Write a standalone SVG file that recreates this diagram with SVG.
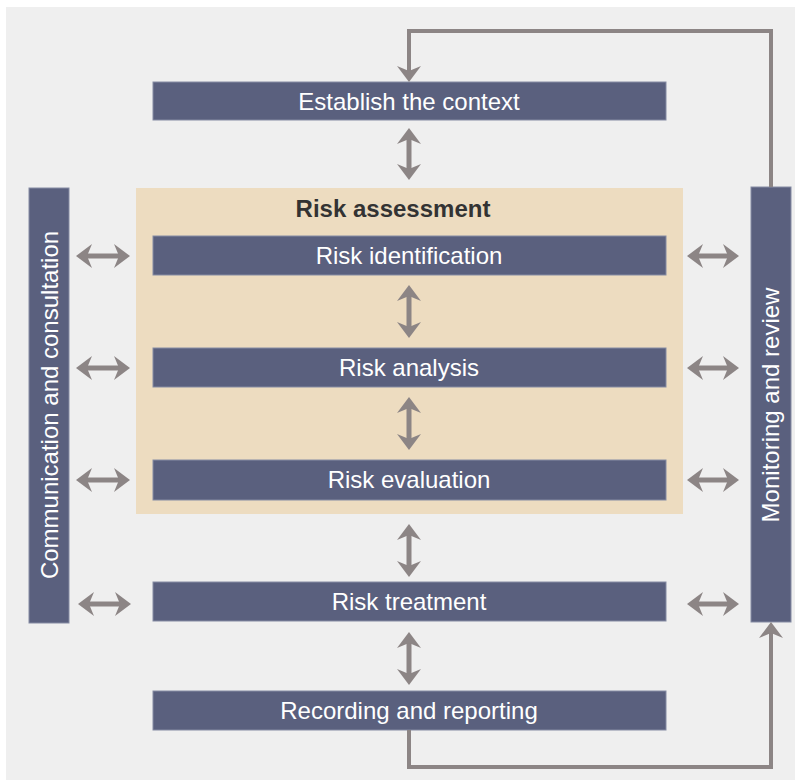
<svg xmlns="http://www.w3.org/2000/svg" width="802" height="783" viewBox="0 0 802 783">
<style>
.box{fill:#5a607e;stroke:#858ba3;stroke-width:1}
.lbl{font-family:"Liberation Sans",Arial,sans-serif;font-size:24px;fill:#ffffff;text-anchor:middle}
.ttl{font-family:"Liberation Sans",Arial,sans-serif;font-size:24px;font-weight:bold;fill:#333333;text-anchor:middle}
.con{fill:none;stroke:#8c8585;stroke-width:4}
.dbl{fill:none;stroke:#8c8585;stroke-width:5}
</style>
<defs>
<marker id="ah" markerUnits="userSpaceOnUse" viewBox="0 0 16 24" markerWidth="16" markerHeight="24" refX="5" refY="12" orient="auto-start-reverse">
<path d="M0,0 L16,12 L0,24 L5,12 Z" fill="#8c8585"/>
</marker>
</defs>
<rect x="0" y="0" width="802" height="783" fill="#ffffff"/>
<rect x="6" y="7" width="789" height="773" fill="#efefef"/>
<g id="risk-assessment">
<rect x="136" y="188" width="547" height="326" fill="#eddcc0"/>
<text class="ttl" x="393" y="217">Risk assessment</text>
</g>
<g id="establish">
<rect class="box" x="153" y="82" width="513" height="38"/>
<text class="lbl" x="409" y="110">Establish the context</text>
</g>
<g id="identification">
<rect class="box" x="153" y="236" width="513" height="39"/>
<text class="lbl" x="409" y="264">Risk identification</text>
</g>
<g id="analysis">
<rect class="box" x="153" y="348" width="513" height="39"/>
<text class="lbl" x="409" y="376">Risk analysis</text>
</g>
<g id="evaluation">
<rect class="box" x="153" y="460" width="513" height="40"/>
<text class="lbl" x="409" y="488">Risk evaluation</text>
</g>
<g id="treatment">
<rect class="box" x="153" y="582" width="513" height="39"/>
<text class="lbl" x="409" y="610">Risk treatment</text>
</g>
<g id="recording">
<rect class="box" x="153" y="691" width="513" height="39"/>
<text class="lbl" x="409" y="719">Recording and reporting</text>
</g>
<g id="communication">
<rect class="box" x="29" y="188" width="40" height="435"/>
<text class="lbl" transform="translate(58,405) rotate(-90)">Communication and consultation</text>
</g>
<g id="monitoring">
<rect class="box" x="751" y="187" width="40" height="435"/>
<text class="lbl" transform="translate(779,405) rotate(-90)">Monitoring and review</text>
</g>
<g id="connectors">
<path class="dbl" d="M409,139 V169" marker-start="url(#ah)" marker-end="url(#ah)"/>
<path class="dbl" d="M409,296 V327" marker-start="url(#ah)" marker-end="url(#ah)"/>
<path class="dbl" d="M409,408 V439" marker-start="url(#ah)" marker-end="url(#ah)"/>
<path class="dbl" d="M409,535 V566" marker-start="url(#ah)" marker-end="url(#ah)"/>
<path class="dbl" d="M409,643 V674" marker-start="url(#ah)" marker-end="url(#ah)"/>
<path class="dbl" d="M87,256 H119" marker-start="url(#ah)" marker-end="url(#ah)"/>
<path class="dbl" d="M87,368 H119" marker-start="url(#ah)" marker-end="url(#ah)"/>
<path class="dbl" d="M87,480 H119" marker-start="url(#ah)" marker-end="url(#ah)"/>
<path class="dbl" d="M89,604 H120" marker-start="url(#ah)" marker-end="url(#ah)"/>
<path class="dbl" d="M698,256 H728" marker-start="url(#ah)" marker-end="url(#ah)"/>
<path class="dbl" d="M698,368 H728" marker-start="url(#ah)" marker-end="url(#ah)"/>
<path class="dbl" d="M698,480 H728" marker-start="url(#ah)" marker-end="url(#ah)"/>
<path class="dbl" d="M698,604 H728" marker-start="url(#ah)" marker-end="url(#ah)"/>
<path class="con" d="M771,187 V31 H409 V71" marker-end="url(#ah)"/>
<path class="con" d="M409,730 V767 H771 V633" marker-end="url(#ah)"/>
</g>
</svg>
